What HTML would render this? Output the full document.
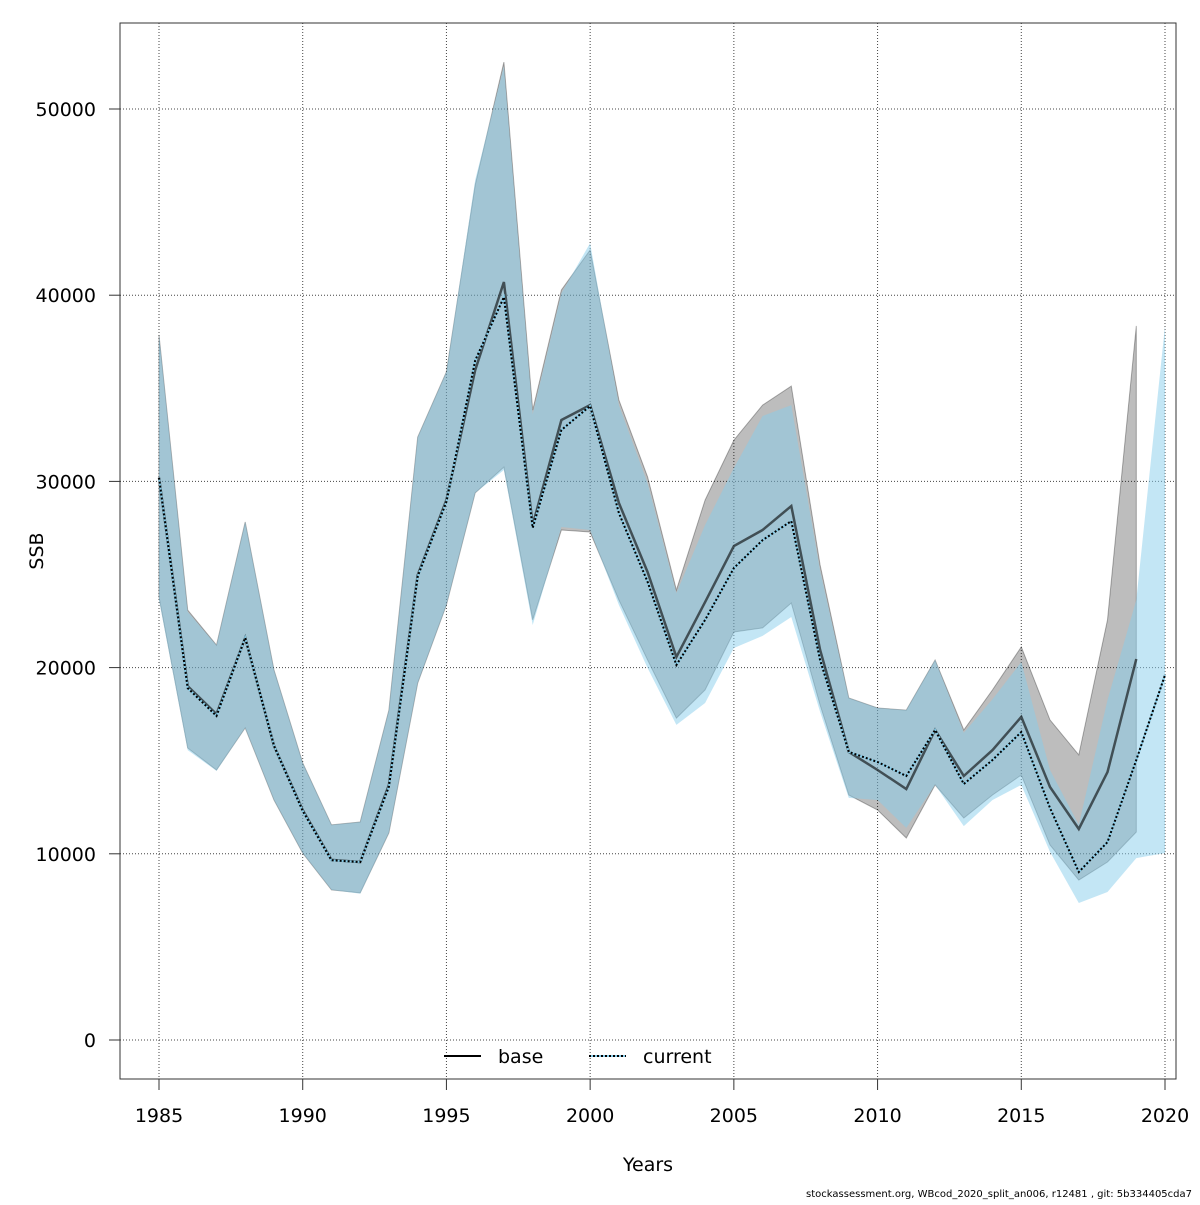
<!DOCTYPE html>
<html><head><meta charset="utf-8"><style>
html,body{margin:0;padding:0;background:#fff;}
svg text{font-family:"DejaVu Sans","Liberation Sans",sans-serif;}
</style></head><body>
<svg id="chart" width="1200" height="1200" viewBox="0 0 1200 1200" xmlns="http://www.w3.org/2000/svg">
<rect width="1200" height="1200" fill="#fff"/>
<g id="grid"></g>
<g id="bands"></g>
<g id="lines"></g>
<rect x="120" y="23" width="1056" height="1056" fill="none" stroke="#333" stroke-width="1"/>
<g id="axes"></g>
<text x="648" y="1171" font-size="19" text-anchor="middle">Years</text>
<text x="43" y="551" font-size="19" text-anchor="middle" transform="rotate(-90 43 551)">SSB</text>
<g>
 <g>
  <line x1="444" y1="1056" x2="481" y2="1056" stroke="#000" stroke-width="2"/>
  <text x="498" y="1063" font-size="19">base</text>
 </g>
 <g>
  <line x1="589" y1="1056" x2="626" y2="1056" stroke="#87ceeb" stroke-width="2"/>
  <line x1="589" y1="1056" x2="626" y2="1056" stroke="#000" stroke-width="2" stroke-dasharray="2,2"/>
  <text x="643" y="1063" font-size="19">current</text>
 </g>
</g>
<text x="1192" y="1197" font-size="10" text-anchor="end">stockassessment.org, WBcod_2020_split_an006, r12481 , git: 5b334405cda7</text>
</svg>
<script>
const baseYears = [1985,1986,1987,1988,1989,1990,1991,1992,1993,1994,1995,1996,1997,1998,1999,2000,2001,2002,2003,2004,2005,2006,2007,2008,2009,2010,2011,2012,2013,2014,2015,2016,2017,2018,2019];
const baseSSB = [30200,19000,17500,21600,15800,12350,9670,9560,13700,24970,29000,35980,40710,27660,33300,34100,28840,25130,20570,23520,26530,27390,28680,20950,15470,14500,13480,16650,14180,15570,17350,13590,11330,14390,20460];
const baseHigh = [37860,23090,21210,27820,19870,14880,11550,11710,17720,32380,35880,45920,52520,33830,40280,42430,34370,30240,24170,29000,32220,34100,35120,25510,18370,17830,17720,20410,16650,18800,21110,17190,15310,22560,38350];
const baseLow = [23790,15680,14500,16760,12890,10040,8060,7900,11120,19170,23360,29380,30770,22560,27390,27280,23630,20410,17290,18800,21910,22130,23470,17990,13160,12350,10850,13700,11920,13160,14230,10470,8590,9560,11170];
const curYears = [1985,1986,1987,1988,1989,1990,1991,1992,1993,1994,1995,1996,1997,1998,1999,2000,2001,2002,2003,2004,2005,2006,2007,2008,2009,2010,2011,2012,2013,2014,2015,2016,2017,2018,2019,2020];
const curSSB = [30200,18900,17400,21600,15800,12300,9650,9560,13600,24900,28900,36500,39900,27500,32760,34050,28300,24600,20140,22560,25350,26850,27870,20400,15470,14930,14180,16650,13750,15040,16540,12460,9020,10630,15040,19600];
const curHigh = [37860,23000,21200,27820,19870,14880,11550,11710,17720,32380,35880,46190,52300,33600,40100,42800,34100,29900,24000,27660,30720,33510,34100,25200,18370,17830,17720,20410,16500,18300,20300,14500,11550,18260,23630,38350];
const curLow = [23630,15570,14450,16760,12890,10040,8060,7850,11120,19170,23360,29380,30610,22290,27550,27390,23360,19980,16920,18100,21050,21700,22720,17620,13000,12890,11390,13700,11490,12890,13700,10100,7360,7950,9770,10040];
const xTicks = [1985,1990,1995,2000,2005,2010,2015,2020];
const yTicks = [0,10000,20000,30000,40000,50000];

const NS="http://www.w3.org/2000/svg";
function X(yr){return 159+(yr-1985)*(1006/35);}
function Y(v){return 1040-v*(931/50000);}
function mk(tag,attrs,parent){const e=document.createElementNS(NS,tag);for(const k in attrs)e.setAttribute(k,attrs[k]);parent.appendChild(e);return e;}
const grid=document.getElementById('grid'),bands=document.getElementById('bands'),lines=document.getElementById('lines'),axes=document.getElementById('axes');

xTicks.forEach(t=>{
 const g=mk('line',{x1:X(t),x2:X(t),y1:23,y2:1079,stroke:'#444','stroke-width':1,'stroke-dasharray':'1,2'},grid);
 
 
 const tk=mk('line',{x1:X(t),x2:X(t),y1:1079,y2:1090,stroke:'#333'},axes);
 
 
 const tx=mk('text',{x:X(t),y:1122,'font-size':19,'text-anchor':'middle'},axes);
 tx.textContent=t;
 
 
});
yTicks.forEach(t=>{
 const g=mk('line',{x1:120,x2:1176,y1:Y(t),y2:Y(t),stroke:'#444','stroke-width':1,'stroke-dasharray':'1,2'},grid);
 
 
 const tk=mk('line',{x1:109,x2:120,y1:Y(t),y2:Y(t),stroke:'#333'},axes);
 
 
 const tx=mk('text',{x:96,y:Y(t)+7,'font-size':19,'text-anchor':'end'},axes);
 tx.textContent=t;
 
 
});

function bandPath(yrs,hi,lo){
 let d='';
 yrs.forEach((y,i)=>{d+=(i?'L':'M')+X(y).toFixed(1)+','+Y(hi[i]).toFixed(1);});
 for(let i=yrs.length-1;i>=0;i--)d+='L'+X(yrs[i]).toFixed(1)+','+Y(lo[i]).toFixed(1);
 return d+'Z';
}
function linePath(yrs,v){return yrs.map((y,i)=>(i?'L':'M')+X(y).toFixed(1)+','+Y(v[i]).toFixed(1)).join('');}

const b1=mk('path',{d:bandPath(baseYears,baseHigh,baseLow),fill:'rgba(0,0,0,0.26)',stroke:'rgba(0,0,0,0.3)','stroke-width':1},bands);


const b2=mk('path',{d:bandPath(curYears,curHigh,curLow),fill:'rgba(135,206,235,0.5)',stroke:'none'},bands);



const l1=mk('path',{d:linePath(baseYears,baseSSB),fill:'none',stroke:'rgba(0,0,0,0.6)','stroke-width':2.5},lines);


const l2a=mk('path',{d:linePath(curYears,curSSB),fill:'none',stroke:'#87ceeb','stroke-width':2},lines);


const l2b=mk('path',{d:linePath(curYears,curSSB),fill:'none',stroke:'#000','stroke-width':2,'stroke-dasharray':'2,2'},lines);


</script>
</body></html>
